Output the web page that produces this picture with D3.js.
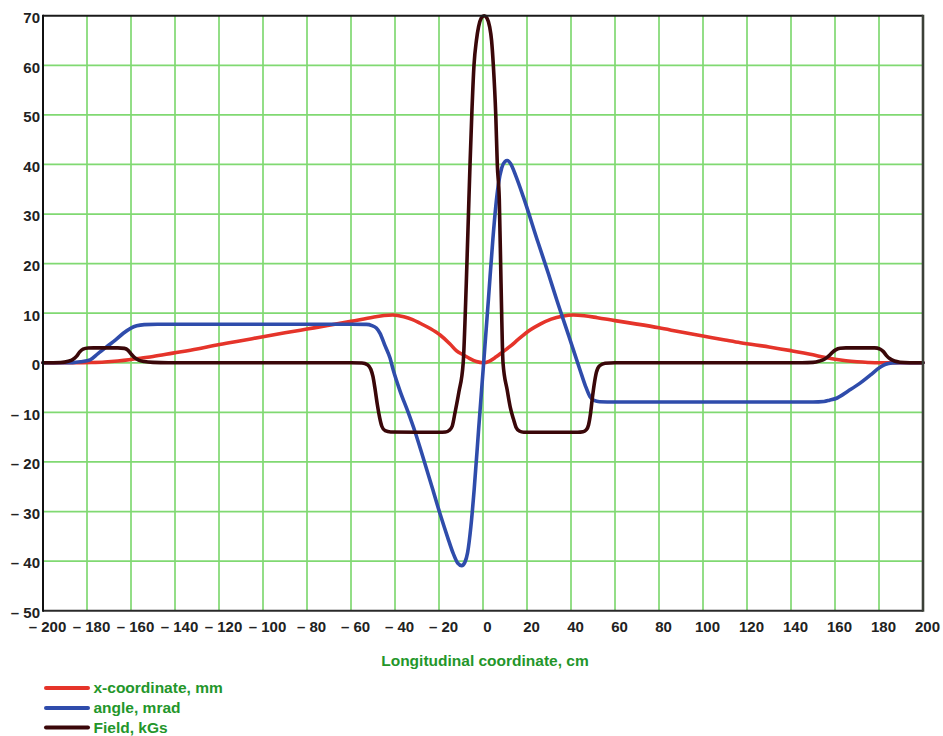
<!DOCTYPE html>
<html>
<head>
<meta charset="utf-8">
<script src="https://cdn.jsdelivr.net/npm/d3@7"></script>
<style>
  html, body { margin: 0; padding: 0; background: #ffffff; }
  svg { display: block; }
  text { font-family: "Liberation Sans", Arial, sans-serif; font-weight: bold; }
</style>
</head>
<body>
<script>
// ---------------- data ----------------
const xTicks = [-200,-180,-160,-140,-120,-100,-80,-60,-40,-20,0,20,40,60,80,100,120,140,160,180,200];
const yTicks = [-50,-40,-30,-20,-10,0,10,20,30,40,50,60,70];

const seriesNames = ["x-coordinate, mm", "angle, mrad", "Field, kGs"];

// x-coordinate, mm  [cm, mm]
const xCoord = [
  [-200,0],[-185,0],[-178,0.05],[-172,0.15],[-166,0.35],[-160,0.65],[-155,0.95],[-150,1.25],
  [-141,1.95],[-130,2.8],[-121,3.6],[-110,4.45],[-100,5.27],[-90,6.05],[-80,6.8],[-70,7.55],
  [-60,8.35],[-50,9.2],[-45,9.55],[-41,9.65],[-36,9.3],[-32,8.7],[-28.6,7.97],[-24,6.9],
  [-19.5,5.6],[-15,3.8],[-12,2.4],[-9,1.6],[-6,0.85],[-3,0.25],[0,0],[3,0.35],[6,1.2],
  [9,2.2],[12.3,3.3],[16,4.7],[21.4,6.6],[26,7.8],[31,8.8],[36,9.4],[41,9.65],[46,9.5],
  [52,9.1],[60,8.5],[70,7.8],[80,7.05],[90,6.2],[100,5.4],[110,4.6],[117,4.05],[130,3.2],
  [140,2.45],[150,1.6],[155,1.1],[160,0.7],[165,0.4],[170,0.2],[175,0.07],[180,0],[200,0]
];

// angle, mrad
const angle = [
  [-200,0],[-190,0],[-186.5,0.03],[-183,0.2],[-178.6,0.6],[-175,1.85],[-171,3.25],[-167,4.6],
  [-163.5,5.95],[-160,7.0],[-157.4,7.45],[-154,7.7],[-148,7.78],[-100,7.78],[-60,7.78],
  [-53,7.74],[-50.5,7.5],[-48.5,7.0],[-46.8,5.95],[-44.5,3.4],[-42.3,1.0],[-40.8,-1.45],
  [-37.7,-5.7],[-34,-10],[-30.9,-13.9],[-27.1,-19.3],[-23,-25.3],[-19.5,-30.5],[-16,-35.3],
  [-13.5,-38.5],[-11.5,-40.4],[-9.7,-40.9],[-8.2,-40.2],[-7,-38.3],[-5.5,-33],[-4,-25.5],
  [-2,-13.5],[0.3,0],[2.5,13],[4.5,25],[5.8,31.5],[7,36],[8.5,39.3],[10,40.6],[11,40.8],
  [12.5,40.2],[15,37.6],[18.3,33.5],[25,24.3],[29.7,18],[33.5,12.7],[39,5.4],[44.1,-1.45],
  [46.5,-4.6],[48.6,-6.8],[50.5,-7.6],[53,-7.85],[60,-7.9],[100,-7.9],[150,-7.9],[155,-7.8],
  [157.5,-7.55],[161,-7.1],[166,-5.7],[171.4,-4.1],[176,-2.5],[180.5,-0.9],[183,-0.3],
  [186,-0.05],[190,0],[200,0]
];

// Field, kGs
const field = [
  [-200,0],[-192,0.05],[-188.5,0.3],[-186.5,0.65],[-184.8,1.3],[-183.3,2.2],[-181.8,2.75],
  [-179.5,2.97],[-177,3],[-166,3],[-163,2.9],[-161.3,2.5],[-160,1.8],[-158.5,1.1],
  [-156.5,0.55],[-154,0.25],[-150,0.08],[-143,0.01],[-120,0],[-60,0],[-55,-0.05],
  [-52.5,-0.4],[-51,-1.3],[-50,-2.8],[-49,-5.5],[-48,-8.5],[-47,-11],[-46,-12.8],
  [-44.5,-13.7],[-42,-13.95],[-30,-14],[-20,-14],[-17,-13.95],[-15.3,-13.6],[-14,-12.8],
  [-12.7,-10],[-11,-6],[-9,0],[-7.6,16],[-6.4,33],[-5.9,40],[-5.1,50],[-4.1,60],[-3,65],
  [-2,67.8],[-0.8,69.5],[0.5,70],[1.8,69.5],[3,67.8],[3.9,65],[4.7,60],[5.8,50],[6.5,40],
  [7.4,33],[8.2,16],[9.1,0],[11,-5.5],[12.4,-9],[13.8,-11.3],[15,-13],[16.5,-13.75],
  [18.5,-14],[30,-14],[43,-14],[45.5,-13.9],[47,-13.5],[48,-12.5],[48.8,-10.5],[49.6,-7.5],
  [50.5,-4.5],[51.5,-2],[53,-0.6],[55.5,-0.1],[60,0],[120,0],[145,0.02],[150,0.08],
  [153,0.35],[155.5,0.8],[157.2,1.4],[158.8,2.1],[160.3,2.6],[162.3,2.92],[165,3],
  [178,3],[180.5,2.75],[182,2.25],[183.5,1.4],[185,0.8],[187,0.35],[189.5,0.12],[194,0.02],[200,0]
];

const seriesData = [xCoord, angle, field];
const seriesColors = ["#e5342a", "#2f4cab", "#3a0709"];

// ---------------- layout ----------------
const W = 943, H = 736;
const x = d3.scaleLinear().domain([-200, 200]).range([43, 923]);
const y = d3.scaleLinear().domain([-50, 70]).range([610.7, 15.7]);

const svg = d3.select("body").append("svg")
  .attr("width", W).attr("height", H)
  .attr("viewBox", `0 0 ${W} ${H}`);

svg.append("rect").attr("width", W).attr("height", H).attr("fill", "#ffffff");

// grid
const gridColor = "#80d972";
svg.append("g").selectAll("line.vg")
  .data(xTicks.filter(t => t > -200 && t < 200))
  .join("line")
  .attr("x1", d => x(d)).attr("x2", d => x(d))
  .attr("y1", y(70)).attr("y2", y(-50))
  .attr("stroke", gridColor).attr("stroke-width", 1.7);

svg.append("g").selectAll("line.hg")
  .data(yTicks.filter(t => t > -50 && t < 70))
  .join("line")
  .attr("x1", x(-200)).attr("x2", x(200))
  .attr("y1", d => y(d)).attr("y2", d => y(d))
  .attr("stroke", gridColor).attr("stroke-width", 1.7);

// curves
const line = d3.line()
  .x(d => x(d[0])).y(d => y(d[1]))
  .curve(d3.curveMonotoneX);

svg.append("g").selectAll("path.series")
  .data(seriesData)
  .join("path")
  .attr("d", d => line(d))
  .attr("fill", "none")
  .attr("stroke", (d, i) => seriesColors[i])
  .attr("stroke-width", 3.6)
  .attr("stroke-linejoin", "round")
  .attr("stroke-linecap", "round");

// frame
svg.append("line").attr("x1", x(-200)).attr("x2", x(200)).attr("y1", y(70)).attr("y2", y(70))
  .attr("stroke", "#1a1a1a").attr("stroke-width", 2);
svg.append("line").attr("x1", x(-200)).attr("x2", x(200)).attr("y1", y(-50)).attr("y2", y(-50))
  .attr("stroke", "#2a2a2a").attr("stroke-width", 2);
svg.append("line").attr("x1", x(-200)).attr("x2", x(-200)).attr("y1", y(70) - 1).attr("y2", y(-50) + 1)
  .attr("stroke", "#111111").attr("stroke-width", 2);
svg.append("line").attr("x1", x(200)).attr("x2", x(200)).attr("y1", y(70) - 1).attr("y2", y(-50) + 1)
  .attr("stroke", "#3c4038").attr("stroke-width", 2.6);

const fmt = v => v < 0 ? "\u2013 " + Math.abs(v) : String(v);

// y tick labels
svg.append("g").selectAll("text")
  .data(yTicks)
  .join("text")
  .attr("x", 40)
  .attr("y", d => y(d) + 7.3)
  .attr("text-anchor", "end")
  .attr("font-size", 15)
  .attr("fill", "#222222")
  .text(fmt);

// x tick labels
svg.append("g").selectAll("text")
  .data(xTicks)
  .join("text")
  .attr("x", d => x(d) + 4.5)
  .attr("y", 631.5)
  .attr("text-anchor", "middle")
  .attr("font-size", 15)
  .attr("fill", "#222222")
  .text(fmt);

// axis title
svg.append("text")
  .attr("x", 485).attr("y", 665.5)
  .attr("text-anchor", "middle")
  .attr("font-size", 15.5)
  .attr("fill", "#23962a")
  .text("Longitudinal coordinate, cm");

// legend
const legY = [688, 708, 727.5];
const leg = svg.append("g").selectAll("g")
  .data(seriesNames)
  .join("g");
leg.append("line")
  .attr("x1", 46).attr("x2", 88)
  .attr("y1", (d, i) => legY[i]).attr("y2", (d, i) => legY[i])
  .attr("stroke", (d, i) => seriesColors[i])
  .attr("stroke-width", 4)
  .attr("stroke-linecap", "round");
leg.append("text")
  .attr("x", 93.5)
  .attr("y", (d, i) => legY[i] + 5.3)
  .attr("font-size", 15.5)
  .attr("fill", "#23962a")
  .text(d => d);
</script>
</body>
</html>
